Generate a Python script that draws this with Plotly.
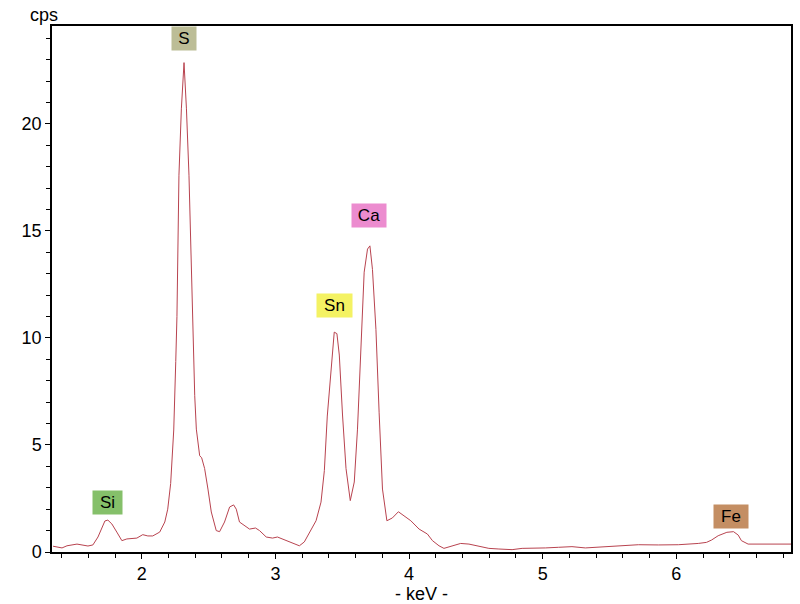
import plotly.graph_objects as go

energy_kev = [
    1.336, 1.403, 1.440, 1.515, 1.597, 1.634, 1.672, 1.724, 1.746, 1.776,
    1.813, 1.851, 1.888, 1.963, 2.007, 2.045, 2.082, 2.134, 2.172, 2.194,
    2.216, 2.239, 2.254, 2.263, 2.278, 2.296, 2.316, 2.334, 2.353, 2.371,
    2.383, 2.396, 2.408, 2.433, 2.448, 2.470, 2.495, 2.520, 2.557, 2.582,
    2.619, 2.657, 2.687, 2.707, 2.731, 2.769, 2.806, 2.851, 2.881, 2.931,
    2.978, 3.015, 3.052, 3.097, 3.179, 3.216, 3.266, 3.304, 3.341, 3.366,
    3.388, 3.416, 3.440, 3.460, 3.478, 3.502, 3.528, 3.560, 3.590, 3.614,
    3.640, 3.664, 3.689, 3.707, 3.726, 3.752, 3.776, 3.801, 3.834, 3.875,
    3.920, 3.963, 4.013, 4.075, 4.137, 4.175, 4.224, 4.261, 4.323, 4.386,
    4.448, 4.522, 4.597, 4.672, 4.771, 4.846, 4.920, 5.020, 5.119, 5.219,
    5.319, 5.418, 5.567, 5.716, 5.866, 6.015, 6.164, 6.226, 6.264, 6.313,
    6.378, 6.428, 6.463, 6.487, 6.537, 6.612, 6.710, 6.785, 6.860,
]
counts_cps = [
    0.27, 0.19, 0.29, 0.37, 0.28, 0.33, 0.70, 1.45, 1.49, 1.31,
    0.93, 0.53, 0.61, 0.65, 0.81, 0.75, 0.75, 0.93, 1.40, 2.00,
    3.20, 5.70, 8.90, 11.0, 17.6, 20.7, 22.86, 20.7, 17.6, 13.7,
    9.9, 7.3, 5.74, 4.5, 4.4, 3.9, 2.94, 1.87, 1.00, 0.95,
    1.40, 2.10, 2.20, 2.00, 1.40, 1.23, 1.07, 1.12, 1.00, 0.70,
    0.65, 0.70, 0.61, 0.47, 0.29, 0.47, 1.07, 1.46, 2.33, 3.8,
    6.35, 8.5, 10.27, 10.2, 9.2, 6.4, 3.9, 2.4, 3.27, 5.74,
    9.6, 13.07, 14.15, 14.3, 13.2, 10.4, 6.5, 2.94, 1.46, 1.59,
    1.88, 1.70, 1.46, 1.07, 0.84, 0.53, 0.29, 0.17, 0.29, 0.40,
    0.37, 0.27, 0.17, 0.14, 0.11, 0.17, 0.17, 0.19, 0.22, 0.25,
    0.19, 0.22, 0.29, 0.34, 0.33, 0.34, 0.40, 0.45, 0.56, 0.76,
    0.92, 0.95, 0.79, 0.53, 0.37, 0.37, 0.40, 0.37, 0.37,
]

element_labels = ["Si", "S", "Sn", "Ca", "Fe"]
label_x = [1.743, 2.313, 3.44, 3.70, 6.41]
label_y = [2.29, 24.0, 11.5, 15.7, 1.68]
label_colors = ["#85c06a", "#bcbd96", "#f4f263", "#ec8ccf", "#c48e63"]
label_box_widths = [25, 20, 31, 30, 30]

FONT = "Liberation Sans, Arial, sans-serif"

fig = go.Figure()
fig.add_trace(go.Scatter(
    x=energy_kev, y=counts_cps, mode="lines",
    line=dict(color="#b8434f", width=1),
    hoverinfo="skip", showlegend=False,
))

for t, x, y, c, w in zip(element_labels, label_x, label_y, label_colors, label_box_widths):
    fig.add_annotation(
        x=x, y=y, text=t, showarrow=False, xref="x", yref="y",
        bgcolor=c, borderpad=2, width=w, align="center",
        font=dict(family=FONT, size=17, color="#000"),
    )

fig.add_annotation(
    x=0, y=1.0, xref="paper", yref="paper", xanchor="left", yanchor="bottom",
    text="cps", showarrow=False,
    font=dict(family=FONT, size=18, color="#000"),
    xshift=-24, yshift=-1,
)

axis_font = dict(family=FONT, size=18, color="#000")
fig.update_xaxes(
    range=[1.328, 6.858], tickmode="array", tickvals=[2, 3, 4, 5, 6],
    ticks="outside", ticklen=5, tickcolor="#000", tickfont=axis_font,
    showline=True, linecolor="#000", linewidth=1.5, mirror=True,
    showgrid=False, zeroline=False,
    minor=dict(dtick=0.2, tick0=0, ticks="outside", ticklen=4, tickcolor="#000"),
    title=dict(text="- keV -", font=axis_font, standoff=0),
)
fig.update_yaxes(
    range=[0, 24.57], tickmode="array", tickvals=[0, 5, 10, 15, 20],
    ticks="outside", ticklen=5, tickcolor="#000", tickfont=axis_font,
    showline=True, linecolor="#000", linewidth=1.5, mirror=True,
    showgrid=False, zeroline=False,
    minor=dict(dtick=1, tick0=0, ticks="outside", ticklen=4, tickcolor="#000"),
)
fig.update_layout(
    width=800, height=604,
    margin=dict(l=52, r=7, t=26, b=51),
    paper_bgcolor="white", plot_bgcolor="white",
)
fig.write_html(
    "out.html",
    config={"displayModeBar": False},
    post_script="document.body.style.margin='0';document.body.style.padding='0';",
)
